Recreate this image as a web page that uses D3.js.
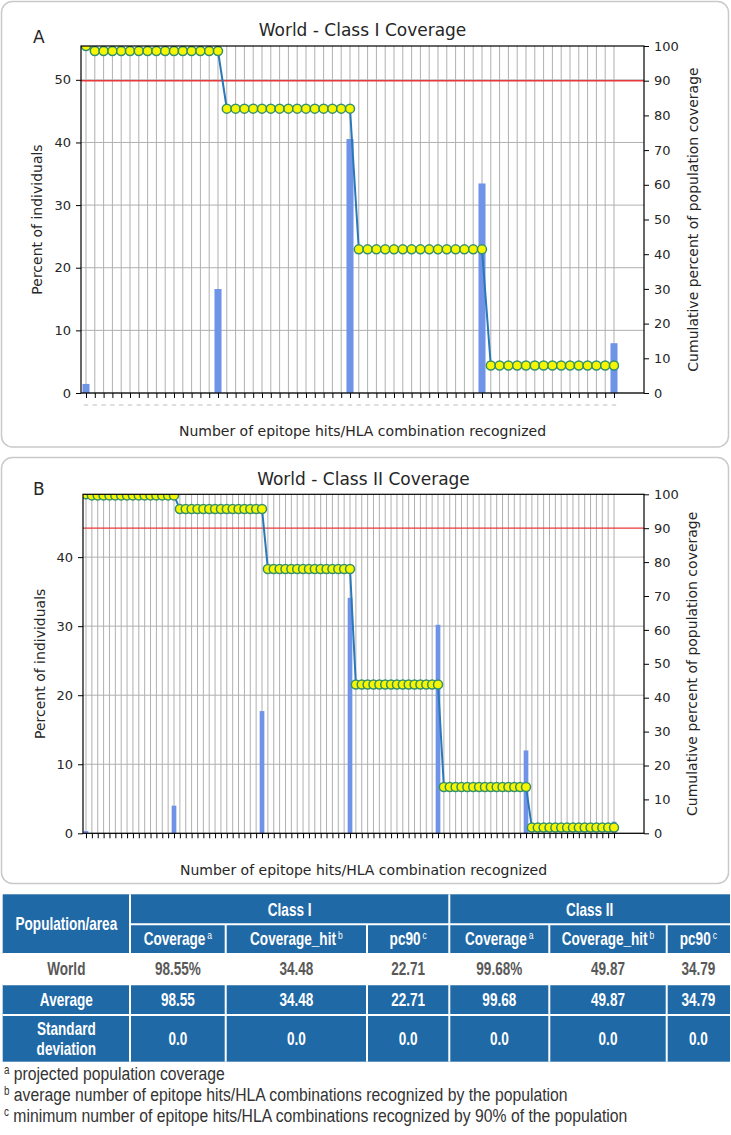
<!DOCTYPE html>
<html>
<head>
<meta charset="utf-8">
<script src="https://cdn.jsdelivr.net/npm/d3@7"></script>
<style>
  html, body { margin: 0; padding: 0; background: #ffffff; }
  svg { display: block; }
</style>
</head>
<body>
<script>
// ---------------- DATA ----------------
// Panel A : World - Class I
const barHitsA = [0, 15, 30, 45, 60];
const barPctA  = [1.45, 16.6, 40.55, 33.45, 7.95];
const cumA = [100,
  98.55, 98.55, 98.55, 98.55, 98.55, 98.55, 98.55, 98.55, 98.55, 98.55, 98.55, 98.55, 98.55, 98.55, 98.55,
  81.95, 81.95, 81.95, 81.95, 81.95, 81.95, 81.95, 81.95, 81.95, 81.95, 81.95, 81.95, 81.95, 81.95, 81.95,
  41.4, 41.4, 41.4, 41.4, 41.4, 41.4, 41.4, 41.4, 41.4, 41.4, 41.4, 41.4, 41.4, 41.4, 41.4,
  7.95, 7.95, 7.95, 7.95, 7.95, 7.95, 7.95, 7.95, 7.95, 7.95, 7.95, 7.95, 7.95, 7.95, 7.95];
const leftTicksA = [0, 10, 20, 30, 40, 50];

// Panel B : World - Class II
const barHitsB = [0, 15, 30, 45, 60, 75, 90];
const barPctB  = [0.32, 4.0, 17.7, 34.1, 30.2, 12.0, 1.68];
const cumB = [100,
  99.68, 99.68, 99.68, 99.68, 99.68, 99.68, 99.68, 99.68, 99.68, 99.68, 99.68, 99.68, 99.68, 99.68, 99.68,
  95.68, 95.68, 95.68, 95.68, 95.68, 95.68, 95.68, 95.68, 95.68, 95.68, 95.68, 95.68, 95.68, 95.68, 95.68,
  77.98, 77.98, 77.98, 77.98, 77.98, 77.98, 77.98, 77.98, 77.98, 77.98, 77.98, 77.98, 77.98, 77.98, 77.98,
  43.88, 43.88, 43.88, 43.88, 43.88, 43.88, 43.88, 43.88, 43.88, 43.88, 43.88, 43.88, 43.88, 43.88, 43.88,
  13.68, 13.68, 13.68, 13.68, 13.68, 13.68, 13.68, 13.68, 13.68, 13.68, 13.68, 13.68, 13.68, 13.68, 13.68,
  1.68, 1.68, 1.68, 1.68, 1.68, 1.68, 1.68, 1.68, 1.68, 1.68, 1.68, 1.68, 1.68, 1.68, 1.68];
const leftTicksB = [0, 10, 20, 30, 40];

const rightTicks = [0, 10, 20, 30, 40, 50, 60, 70, 80, 90, 100];
const thresholdPct = 90;

// Table
const classGroups   = ["Class I", "Class II"];
const subHeaders    = ["Coverage", "Coverage_hit", "pc90", "Coverage", "Coverage_hit", "pc90"];
const subHeaderSup  = ["a", "b", "c", "a", "b", "c"];
const rowLabels     = ["World", "Average", "Standard deviation"];
const worldRow      = ["98.55%", "34.48", "22.71", "99.68%", "49.87", "34.79"];
const averageRow    = ["98.55", "34.48", "22.71", "99.68", "49.87", "34.79"];
const sdRow         = ["0.0", "0.0", "0.0", "0.0", "0.0", "0.0"];
const footnoteMarks = ["a", "b", "c"];
const footnoteTexts = [
  "projected population coverage",
  "average number of epitope hits/HLA combinations recognized by the population",
  "minimum number of epitope hits/HLA combinations recognized by 90% of the population"
];

// ---------------- DRAW ----------------
const W = 731, H = 1135;
const svg = d3.select("body").append("svg").attr("width", W).attr("height", H);
const mplFont = "'DejaVu Sans', Verdana, sans-serif";
const tabFont = "'Liberation Sans', Arial, sans-serif";

function drawPanel(c) {
  const g = svg.append("g");
  g.append("rect").attr("x", c.frame[0]).attr("y", c.frame[1])
    .attr("width", c.frame[2]).attr("height", c.frame[3])
    .attr("rx", 11).attr("ry", 11)
    .attr("fill", "#fff").attr("stroke", "#c9c9c9").attr("stroke-width", 1.5);

  const n = c.cum.length;
  const cats = d3.range(n);
  const x = d3.scaleLinear().domain(c.xDomain).range([c.left, c.right]);
  const yL = d3.scaleLinear().domain([0, c.yLmax]).range([c.bottom, c.top]);
  const yR = d3.scaleLinear().domain([0, 100]).range([c.bottom, c.top]);
  const step = x(1) - x(0);

  const clipId = "clip" + c.label;
  svg.append("clipPath").attr("id", clipId).append("rect")
    .attr("x", c.left).attr("y", c.top).attr("width", c.right - c.left).attr("height", c.bottom - c.top);

  // grid
  g.append("g").selectAll("line.v").data(cats).join("line")
    .attr("x1", d => x(d)).attr("x2", d => x(d)).attr("y1", c.top).attr("y2", c.bottom)
    .attr("stroke", "#b0b0b0").attr("stroke-width", 1);
  g.append("g").selectAll("line.h").data(c.leftTicks).join("line")
    .attr("x1", c.left).attr("x2", c.right).attr("y1", d => yL(d)).attr("y2", d => yL(d))
    .attr("stroke", "#b0b0b0").attr("stroke-width", 1);

  // bars
  const bw = step * 0.8;
  g.append("g").selectAll("rect").data(c.barHits).join("rect")
    .attr("x", d => x(d) - bw / 2).attr("width", bw)
    .attr("y", (d, i) => yL(c.barPct[i]))
    .attr("height", (d, i) => yL(0) - yL(c.barPct[i]))
    .attr("fill", "#6f93e6");

  // threshold line
  g.append("line").attr("x1", c.left).attr("x2", c.right)
    .attr("y1", yR(thresholdPct)).attr("y2", yR(thresholdPct))
    .attr("stroke", "#e8383a").attr("stroke-width", c.redW);

  // cumulative line + markers
  const lg = g.append("g").attr("clip-path", `url(#${clipId})`);
  lg.append("path").datum(c.cum)
    .attr("d", d3.line().x((d, i) => x(i)).y(d => yR(d)))
    .attr("fill", "none").attr("stroke", "#2a78b8").attr("stroke-width", 2);
  lg.selectAll("circle").data(c.cum).join("circle")
    .attr("cx", (d, i) => x(i)).attr("cy", d => yR(d)).attr("r", 4.5)
    .attr("fill", "#f6f600").attr("stroke", "#34906a").attr("stroke-width", 1.5);

  // spines
  g.append("rect").attr("x", c.left).attr("y", c.top)
    .attr("width", c.right - c.left).attr("height", c.bottom - c.top)
    .attr("fill", "none").attr("stroke", "#000").attr("stroke-width", 1.2);

  // axes
  const styleAxis = sel => {
    sel.select(".domain").remove();
    sel.selectAll("line").attr("stroke", "#000").attr("stroke-width", 1);
    sel.selectAll("text").attr("fill", "#262626").style("font-family", mplFont).style("font-size", "13px");
  };
  g.append("g").attr("transform", `translate(${c.left},0)`)
    .call(d3.axisLeft(yL).tickValues(c.leftTicks).tickSize(5).tickPadding(5).tickFormat(d3.format("d")))
    .call(styleAxis);
  g.append("g").attr("transform", `translate(${c.right},0)`)
    .call(d3.axisRight(yR).tickValues(rightTicks).tickSize(5).tickPadding(5).tickFormat(d3.format("d")))
    .call(styleAxis);
  g.append("g").attr("transform", `translate(0,${c.bottom})`)
    .call(d3.axisBottom(x).tickValues(cats).tickSize(5).tickFormat(""))
    .call(styleAxis);

  if (c.dashes) {
    g.append("g").selectAll("line").data(cats).join("line")
      .attr("x1", d => x(d) - 2.2).attr("x2", d => x(d) + 2.2)
      .attr("y1", c.bottom + 12).attr("y2", c.bottom + 12)
      .attr("stroke", "#bdbdbd").attr("stroke-width", 1);
  }

  // texts
  g.append("text").attr("x", c.labelPos[0]).attr("y", c.labelPos[1]).text(c.label)
    .style("font-family", mplFont).style("font-size", "17px").attr("fill", "#262626");
  g.append("text").attr("x", (c.left + c.right) / 2).attr("y", c.titleY).text(c.title)
    .attr("text-anchor", "middle").style("font-family", mplFont).style("font-size", "17px").attr("fill", "#262626");
  g.append("text").attr("x", (c.left + c.right) / 2).attr("y", c.xLabelY)
    .text("Number of epitope hits/HLA combination recognized")
    .attr("text-anchor", "middle").style("font-family", mplFont).style("font-size", "14px").attr("fill", "#262626");
  const cy = (c.top + c.bottom) / 2;
  g.append("text").attr("transform", `translate(${c.yLabelX},${cy}) rotate(-90)`)
    .attr("dy", "0.35em").attr("text-anchor", "middle").text("Percent of individuals")
    .style("font-family", mplFont).style("font-size", "14px").attr("fill", "#262626");
  g.append("text").attr("transform", `translate(${c.rLabelX},${cy}) rotate(-90)`)
    .attr("dy", "0.35em").attr("text-anchor", "middle").text("Cumulative percent of population coverage")
    .style("font-family", mplFont).style("font-size", "14px").attr("fill", "#262626");
}

drawPanel({
  label: "A", frame: [1.5, 1.5, 727, 445.5], labelPos: [33, 43],
  title: "World - Class I Coverage", titleY: 36,
  left: 81, right: 644, top: 46, bottom: 393,
  xDomain: [-0.568, 63.41], yLmax: 55.4, leftTicks: leftTicksA,
  cum: cumA, barHits: barHitsA, barPct: barPctA, dashes: true, redW: 1.6,
  xLabelY: 436, yLabelX: 37, rLabelX: 693
});
drawPanel({
  label: "B", frame: [1.5, 457.5, 727, 426], labelPos: [33, 495],
  title: "World - Class II Coverage", titleY: 485,
  left: 83, right: 644, top: 494.3, bottom: 833.3,
  xDomain: [-0.511, 95.11], yLmax: 49.1, leftTicks: leftTicksB,
  cum: cumB, barHits: barHitsB, barPct: barPctB, dashes: false, redW: 1.3,
  xLabelY: 875, yLabelX: 40, rLabelX: 692
});

// ---------------- TABLE ----------------
const blue = "#1f69a6";
const cols = [2.7, 130, 225.7, 367, 449.3, 549.3, 666.7, 730];
const rows = [894.3, 924.3, 954, 984.3, 1015, 1061.7];
const tg = svg.append("g");
const fs = 17.5;
const narrowT = 0.775;

tg.append("rect").attr("x", cols[0]).attr("y", rows[0]).attr("width", cols[7] - cols[0]).attr("height", rows[2] - rows[0]).attr("fill", blue);
tg.append("rect").attr("x", cols[0]).attr("y", rows[3]).attr("width", cols[7] - cols[0]).attr("height", rows[5] - rows[3]).attr("fill", blue);

// separators
const sep = (x1, y1, x2, y2) => tg.append("line").attr("x1", x1).attr("y1", y1).attr("x2", x2).attr("y2", y2)
  .attr("stroke", "#fff").attr("stroke-width", 2);
sep(cols[1], rows[0], cols[1], rows[5]);
sep(cols[4], rows[0], cols[4], rows[5]);
[2, 3, 5, 6].forEach(i => sep(cols[i], rows[1], cols[i], rows[5]));
sep(cols[1], rows[1], cols[7], rows[1]);
sep(cols[0], rows[2], cols[7], rows[2]);
sep(cols[0], rows[3], cols[7], rows[3]);
sep(cols[0], rows[4], cols[7], rows[4]);

const cellText = (cx, cyc, txt, color, sup) => {
  const t = tg.append("text")
    .attr("transform", `translate(${cx},${cyc + fs * 0.36}) scale(${narrowT},1)`)
    .attr("text-anchor", "middle").style("font-family", tabFont).style("font-size", fs + "px")
    .style("font-weight", "bold").attr("fill", color);
  t.append("tspan").text(txt);
  if (sup) {
    t.append("tspan").text(" ").style("font-size", "9px");
    t.append("tspan").text(sup).attr("dy", -6).style("font-size", "11px").style("font-weight", "normal");
  }
  return t;
};

cellText((cols[0] + cols[1]) / 2, (rows[0] + rows[2]) / 2, "Population/area", "#fff");
cellText((cols[1] + cols[4]) / 2, (rows[0] + rows[1]) / 2, classGroups[0], "#fff");
cellText((cols[4] + cols[7]) / 2, (rows[0] + rows[1]) / 2, classGroups[1], "#fff");
subHeaders.forEach((h, i) => cellText((cols[i + 1] + cols[i + 2]) / 2, (rows[1] + rows[2]) / 2, h, "#fff", subHeaderSup[i]));

const rowData = [worldRow, averageRow, sdRow];
rowData.forEach((r, ri) => {
  const yc = (rows[ri + 2] + rows[ri + 3]) / 2;
  const color = ri === 0 ? "#595959" : "#fff";
  if (ri === 2) {
    const parts = rowLabels[2].split(" ");
    cellText((cols[0] + cols[1]) / 2, yc - 10, parts[0], color);
    cellText((cols[0] + cols[1]) / 2, yc + 10, parts[1], color);
  } else {
    cellText((cols[0] + cols[1]) / 2, yc, rowLabels[ri], color);
  }
  r.forEach((v, i) => cellText((cols[i + 1] + cols[i + 2]) / 2, yc, v, color));
});

// footnotes
const fnY = [1080, 1101, 1121.5];
footnoteTexts.forEach((txt, i) => {
  const t = svg.append("text").attr("transform", `translate(4,${fnY[i]}) scale(0.82,1)`)
    .style("font-family", tabFont).style("font-size", "19.2px").attr("fill", "#333");
  t.append("tspan").text(footnoteMarks[i]).attr("dy", -6).style("font-size", "12px");
  t.append("tspan").text(" " + txt).attr("dy", 6);
});
</script>
</body>
</html>
